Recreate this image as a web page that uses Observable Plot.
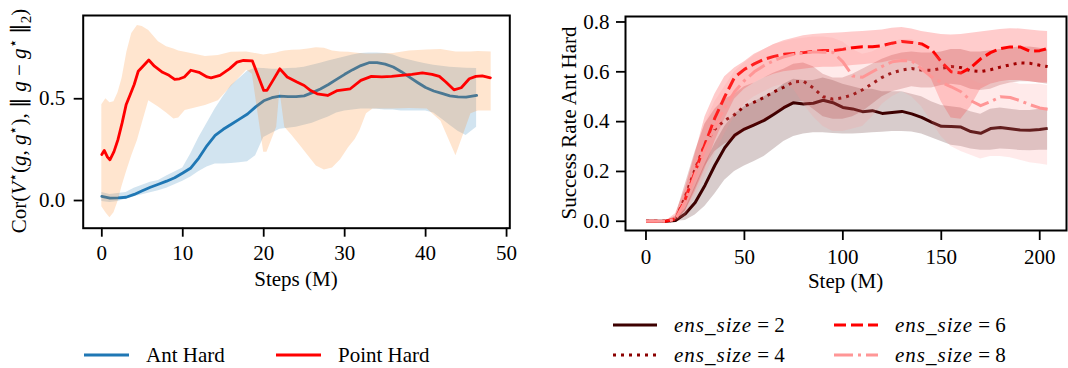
<!DOCTYPE html>
<html><head><meta charset="utf-8">
<script src="https://cdn.jsdelivr.net/npm/d3@7"></script>
<script src="https://cdn.jsdelivr.net/npm/@observablehq/plot@0.6"></script>
<style>
html,body{margin:0;padding:0;background:#fff;}
#wrap{position:relative;width:1068px;height:368px;overflow:hidden;font-family:"Liberation Serif",serif;}
#left,#right{position:absolute;top:0;}
#left{left:0}
#right{left:540px}
#legend{position:absolute;left:0;top:0;}
svg{overflow:visible}
</style></head>
<body><div id="wrap"><div id="left"></div><div id="right"></div><svg id="legend" width="1068" height="368"></svg></div>
<script>
// ---------- Left chart data ----------
const leftXTicks = [0, 10, 20, 30, 40, 50];
const leftYTicks = [0, 0.5];
const leftXTitle = "Steps (M)";
const leftLegendLabels = ["Ant Hard", "Point Hard"];

const antSteps = [0,1,2,3,4,5,6,7,8,9,10,11,12,13,14,15,16,17,18,19,20,21,22,23,24,25,26,27,28,29,30,31,32,33,34,35,36,37,38,39,40,41,42,43,44,45,46.3];
const antMean = [0.02,0.012,0.013,0.016,0.03,0.048,0.065,0.08,0.095,0.112,0.135,0.16,0.21,0.27,0.32,0.35,0.375,0.4,0.425,0.46,0.49,0.505,0.513,0.51,0.51,0.514,0.53,0.548,0.57,0.595,0.62,0.643,0.663,0.677,0.677,0.67,0.656,0.633,0.606,0.58,0.555,0.538,0.526,0.514,0.509,0.508,0.516];
const antLo = [-0.005,-0.01,-0.005,0.008,0.018,0.028,0.038,0.048,0.06,0.078,0.095,0.115,0.142,0.165,0.18,0.18,0.182,0.185,0.19,0.22,0.31,0.33,0.35,0.355,0.36,0.37,0.38,0.395,0.41,0.43,0.44,0.445,0.45,0.45,0.448,0.445,0.445,0.44,0.44,0.44,0.44,0.43,0.4,0.37,0.34,0.32,0.36];
const antHi = [0.04,0.03,0.035,0.04,0.06,0.075,0.09,0.098,0.12,0.14,0.16,0.23,0.31,0.38,0.45,0.51,0.565,0.6,0.635,0.65,0.648,0.645,0.645,0.648,0.65,0.655,0.665,0.675,0.685,0.695,0.705,0.715,0.722,0.725,0.725,0.722,0.715,0.7,0.69,0.68,0.672,0.665,0.66,0.655,0.652,0.65,0.648];

const pointSteps = [0,0.3,0.7,1,1.5,2,2.5,3,3.5,4,4.5,5,5.8,6.5,7.5,8.3,9,9.6,10.2,11,12,13,13.5,14.6,15.8,16.7,17.5,18.6,20,20.4,21.2,22,22.9,24.1,25,25.8,26.6,27.9,29.1,30.7,32,33.3,34.6,35.8,37,38.3,39.6,40.8,41.7,42.5,43.5,44.4,45.4,46.2,47,48];
const pointMean = [0.226,0.246,0.213,0.2,0.24,0.3,0.38,0.47,0.52,0.57,0.635,0.656,0.69,0.66,0.63,0.615,0.595,0.598,0.607,0.64,0.63,0.607,0.603,0.615,0.648,0.68,0.688,0.686,0.541,0.541,0.594,0.647,0.607,0.582,0.565,0.54,0.524,0.516,0.54,0.549,0.59,0.61,0.607,0.61,0.615,0.62,0.627,0.62,0.61,0.582,0.544,0.554,0.598,0.61,0.612,0.603];
const pointBandSteps = [0,0.5,1,1.5,2,2.5,3.1,3.7,4.4,5,5.8,7,8,8.9,9.5,10.3,12.8,14.4,16,17.9,18.6,20,20.4,21.6,22,22.6,23.5,24.5,25.5,26.5,27.5,28.5,29.5,30.5,31.3,31.9,32.7,33.5,36,38,40.2,41.9,43.75,45.6,46.5,48.1];
const pointLo = [-0.03,-0.06,-0.085,-0.06,-0.005,0.07,0.147,0.22,0.295,0.38,0.49,0.46,0.43,0.4,0.405,0.442,0.467,0.49,0.56,0.64,0.62,0.237,0.237,0.36,0.54,0.36,0.32,0.27,0.22,0.17,0.15,0.16,0.2,0.26,0.3,0.344,0.426,0.45,0.45,0.452,0.45,0.39,0.22,0.426,0.44,0.44];
const pointHi = [0.47,0.5,0.48,0.485,0.53,0.6,0.73,0.82,0.86,0.855,0.835,0.78,0.755,0.745,0.735,0.728,0.708,0.712,0.728,0.73,0.725,0.715,0.718,0.725,0.73,0.735,0.738,0.74,0.745,0.75,0.748,0.735,0.73,0.728,0.725,0.722,0.72,0.72,0.722,0.735,0.74,0.742,0.73,0.73,0.732,0.73];

// ---------- Right chart data ----------
const rightXTicks = [0, 50, 100, 150, 200];
const rightYTicks = [0, 0.2, 0.4, 0.6, 0.8];
const rightXTitle = "Step (M)";
const rightYTitle = "Success Rate Ant Hard";
const ensSizes = [2, 4, 6, 8];

const stepsR = [0,10,15,20,25,30,35,40,45,50,55,60,65,70,75,80,85,90,95,100,105,110,115,120,125,130,135,140,145,150,155,160,165,170,175,180,185,190,195,200,204];

const ens2Mean = [0,0,0.003,0.03,0.075,0.145,0.225,0.295,0.345,0.37,0.387,0.405,0.43,0.456,0.476,0.471,0.474,0.486,0.476,0.457,0.451,0.44,0.444,0.433,0.437,0.441,0.431,0.417,0.398,0.381,0.38,0.378,0.36,0.353,0.372,0.376,0.371,0.366,0.365,0.368,0.373];
const ens2Lo = [0,0,0,0.003,0.025,0.06,0.11,0.165,0.2,0.222,0.24,0.26,0.29,0.32,0.34,0.35,0.355,0.355,0.352,0.35,0.35,0.352,0.355,0.357,0.36,0.36,0.358,0.35,0.335,0.32,0.305,0.3,0.29,0.285,0.285,0.29,0.288,0.284,0.283,0.285,0.285];
const ens2Hi = [0,0,0.01,0.05,0.14,0.23,0.31,0.38,0.43,0.46,0.48,0.5,0.52,0.55,0.57,0.565,0.565,0.575,0.565,0.55,0.54,0.53,0.53,0.52,0.52,0.52,0.51,0.5,0.48,0.465,0.46,0.455,0.44,0.43,0.45,0.455,0.45,0.445,0.445,0.45,0.455];

const ens4Mean = [0,0,0.005,0.1,0.21,0.31,0.37,0.405,0.428,0.462,0.478,0.497,0.52,0.538,0.56,0.562,0.535,0.5,0.49,0.496,0.508,0.528,0.553,0.578,0.596,0.607,0.613,0.607,0.606,0.614,0.621,0.617,0.604,0.601,0.608,0.619,0.628,0.636,0.634,0.626,0.621];
const ens4Lo = [0,0,0,0.04,0.13,0.22,0.28,0.31,0.33,0.36,0.38,0.4,0.43,0.45,0.48,0.48,0.45,0.42,0.41,0.41,0.42,0.44,0.47,0.5,0.52,0.53,0.54,0.535,0.535,0.545,0.55,0.545,0.53,0.525,0.53,0.545,0.555,0.56,0.56,0.555,0.55];
const ens4Hi = [0,0,0.02,0.15,0.28,0.39,0.45,0.49,0.51,0.54,0.555,0.575,0.595,0.61,0.63,0.635,0.62,0.59,0.575,0.575,0.59,0.61,0.63,0.65,0.665,0.675,0.68,0.675,0.675,0.68,0.69,0.69,0.68,0.68,0.685,0.69,0.695,0.7,0.7,0.695,0.69];

const ens6Mean = [0,0,0.01,0.09,0.2,0.31,0.415,0.5,0.578,0.61,0.632,0.65,0.662,0.67,0.674,0.677,0.682,0.686,0.685,0.69,0.697,0.701,0.701,0.705,0.715,0.722,0.718,0.712,0.69,0.64,0.6,0.595,0.617,0.652,0.677,0.693,0.7,0.7,0.683,0.685,0.693];
const ens6Lo = [0,0,0,0.04,0.12,0.21,0.32,0.41,0.49,0.53,0.555,0.575,0.59,0.6,0.605,0.61,0.615,0.618,0.618,0.62,0.625,0.628,0.632,0.636,0.645,0.648,0.64,0.62,0.57,0.48,0.415,0.41,0.46,0.53,0.55,0.56,0.565,0.565,0.56,0.555,0.555];
const ens6Hi = [0,0,0.03,0.13,0.27,0.42,0.51,0.58,0.615,0.64,0.67,0.69,0.71,0.725,0.735,0.745,0.75,0.753,0.755,0.757,0.76,0.762,0.765,0.768,0.775,0.778,0.772,0.762,0.756,0.75,0.748,0.75,0.755,0.76,0.765,0.77,0.773,0.772,0.768,0.764,0.762];

const ens8Mean = [0,0,0.008,0.08,0.19,0.29,0.38,0.455,0.52,0.565,0.6,0.625,0.645,0.66,0.67,0.675,0.68,0.678,0.678,0.64,0.583,0.578,0.6,0.622,0.64,0.645,0.644,0.612,0.58,0.557,0.54,0.52,0.484,0.464,0.48,0.5,0.497,0.484,0.468,0.455,0.45];
const ens8Lo = [0,0,0,0.02,0.1,0.18,0.27,0.35,0.42,0.47,0.5,0.52,0.54,0.55,0.53,0.47,0.42,0.38,0.36,0.36,0.37,0.38,0.42,0.47,0.5,0.52,0.5,0.46,0.4,0.34,0.3,0.28,0.265,0.25,0.26,0.26,0.255,0.245,0.235,0.23,0.225];
const ens8Hi = [0,0,0.02,0.14,0.27,0.39,0.48,0.54,0.6,0.635,0.665,0.69,0.71,0.72,0.73,0.735,0.74,0.74,0.735,0.72,0.69,0.67,0.68,0.7,0.72,0.73,0.73,0.71,0.68,0.65,0.63,0.6,0.57,0.55,0.55,0.56,0.56,0.55,0.55,0.55,0.545];

// ---------- styles ----------
const FONT = "Liberation Serif";
const FS = 21;
const antColor = "#1f77b4", pointLineColor = "#ff0000", pointBandColor = "#ff7f0e";
const ensColors = ["#3d0000", "#8b0000", "#ff0000", "#ff9696"];
const ensDash = [null, "3,5", "12,5", "19,5,3,5"];

function rows(steps, cols) {
  return steps.map((s, i) => { const r = {step: s}; for (const k in cols) r[k] = cols[k][i]; return r; });
}

function addMath(sel, parts, fs) {
  let shift = 0;
  for (const [t, k] of parts) {
    const target = k === "sup" ? -0.4 * fs : k === "sub" ? 0.25 * fs : 0;
    const ts = sel.append("tspan").text(t).attr("dy", target - shift);
    shift = target;
    if (k === "i" ) ts.attr("font-style", "italic");
    if (k === "sup" || k === "sub") ts.attr("font-size", Math.round(fs * 0.7));
  }
}

const antData = rows(antSteps, {mean: antMean, lo: antLo, hi: antHi});
const pointLine = rows(pointSteps, {mean: pointMean});
const pointBand = rows(pointBandSteps, {lo: pointLo, hi: pointHi});

const left = Plot.plot({
  width: 530, height: 300,
  marginLeft: 82.7, marginRight: 20.7, marginTop: 15, marginBottom: 72.3,
  style: {fontFamily: FONT, fontSize: FS + "px", background: "transparent", overflow: "visible", color: "black"},
  x: {domain: [-2.3, 50.4], label: null},
  y: {domain: [-0.136, 0.909], label: null},
  marks: [
    Plot.areaY(antData, {x: "step", y1: "lo", y2: "hi", fill: antColor, fillOpacity: 0.2}),
    Plot.lineY(antData, {x: "step", y: "mean", stroke: antColor, strokeWidth: 2.8}),
    Plot.areaY(pointBand, {x: "step", y1: "lo", y2: "hi", fill: pointBandColor, fillOpacity: 0.2}),
    Plot.lineY(pointLine, {x: "step", y: "mean", stroke: pointLineColor, strokeWidth: 2.8}),
    Plot.frame({stroke: "black", strokeWidth: 2}),
    Plot.axisX({ticks: leftXTicks, tickFormat: d => String(d), tickSize: 9, tickPadding: 8, strokeWidth: 1.8, fontSize: FS, label: null}),
    Plot.axisY({ticks: leftYTicks, tickFormat: d3.format(".1f"), tickSize: 9, tickPadding: 9, strokeWidth: 1.8, fontSize: FS, label: null})
  ]
});
document.getElementById("left").appendChild(left);
{
  const s = d3.select(left);
  s.append("text").attr("x", 296).attr("y", 286).attr("text-anchor", "middle")
    .attr("font-family", FONT).attr("font-size", FS).attr("fill", "black").text(leftXTitle);
  const t = s.append("text").attr("transform", "translate(26,121) rotate(-90)").attr("text-anchor", "middle")
    .attr("font-family", FONT).attr("font-size", FS).attr("fill", "black");
  addMath(t, [["Cor(", ""], ["V", "i"], ["\u22C6", "sup"], ["(", ""], ["g", "i"], [", ", ""], ["g", "i"], ["\u22C6", "sup"],
    ["), \u2225 ", ""], ["g", "i"], [" \u2212 ", ""], ["g", "i"], ["\u22C6", "sup"], [" \u2225", ""], ["2", "sub"], [")", ""]], FS);
}

const ensData = [
  rows(stepsR, {mean: ens2Mean, lo: ens2Lo, hi: ens2Hi}),
  rows(stepsR, {mean: ens4Mean, lo: ens4Lo, hi: ens4Hi}),
  rows(stepsR, {mean: ens6Mean, lo: ens6Lo, hi: ens6Hi}),
  rows(stepsR, {mean: ens8Mean, lo: ens8Lo, hi: ens8Hi})
];
const ensMarks = [];
ensData.forEach((d, i) => {
  ensMarks.push(Plot.areaY(d, {x: "step", y1: "lo", y2: "hi", fill: ensColors[i], fillOpacity: 0.2}));
  ensMarks.push(Plot.lineY(d, {x: "step", y: "mean", stroke: ensColors[i], strokeWidth: 3, strokeDasharray: ensDash[i] || undefined, strokeLinecap: "butt"}));
});

const right = Plot.plot({
  width: 528, height: 300,
  marginLeft: 85, marginRight: 2, marginTop: 16, marginBottom: 70,
  style: {fontFamily: FONT, fontSize: FS + "px", background: "transparent", overflow: "visible", color: "black"},
  x: {domain: [-10.4, 213.6], label: null},
  y: {domain: [-0.037, 0.822], label: null},
  marks: [
    ...ensMarks,
    Plot.frame({stroke: "black", strokeWidth: 2}),
    Plot.axisX({ticks: rightXTicks, tickFormat: d => String(d), tickSize: 10, tickPadding: 9, strokeWidth: 1.8, fontSize: FS, label: null}),
    Plot.axisY({ticks: rightYTicks, tickFormat: d3.format(".1f"), tickSize: 9, tickPadding: 7, strokeWidth: 1.8, fontSize: FS, label: null})
  ]
});
document.getElementById("right").appendChild(right);
{
  const s = d3.select(right);
  s.append("text").attr("x", 305.5).attr("y", 288).attr("text-anchor", "middle")
    .attr("font-family", FONT).attr("font-size", FS).attr("fill", "black").text(rightXTitle);
  s.append("text").attr("transform", "translate(36,123) rotate(-90)").attr("text-anchor", "middle")
    .attr("font-family", FONT).attr("font-size", FS).attr("fill", "black").text(rightYTitle);
}

// ---------- Legends ----------
{
  const g = d3.select("#legend");
  const leftItems = [{label: leftLegendLabels[0], color: antColor, x: 84}, {label: leftLegendLabels[1], color: pointLineColor, x: 276}];
  leftItems.forEach(it => {
    g.append("line").attr("x1", it.x).attr("x2", it.x + 45).attr("y1", 355).attr("y2", 355)
      .attr("stroke", it.color).attr("stroke-width", 3);
    g.append("text").attr("x", it.x + 62).attr("y", 362).attr("font-family", FONT).attr("font-size", FS)
      .attr("fill", "black").text(it.label);
  });
  const cols = [613, 834], rowsY = [325, 355];
  ensSizes.forEach((n, i) => {
    const x = cols[Math.floor(i / 2)], y = rowsY[i % 2];
    const ln = g.append("line").attr("x1", x).attr("x2", x + 44).attr("y1", y).attr("y2", y)
      .attr("stroke", ensColors[i]).attr("stroke-width", 3);
    if (ensDash[i]) ln.attr("stroke-dasharray", ensDash[i]);
    const t = g.append("text").attr("x", x + 61).attr("y", y + 7).attr("font-family", FONT).attr("font-size", FS).attr("fill", "black");
    t.append("tspan").attr("font-style", "italic").attr("letter-spacing", "1").text("ens_size");
    t.append("tspan").text(" = " + n);
  });
}
</script>
</body></html>
